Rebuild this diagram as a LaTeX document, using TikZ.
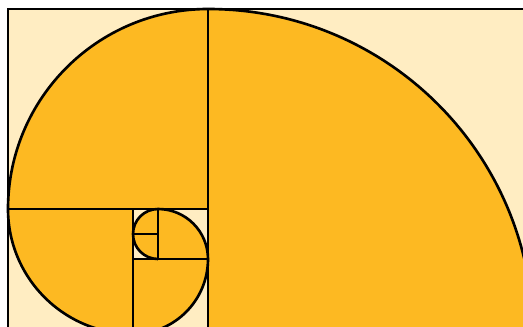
\documentclass[tikz,border=0pt]{standalone}
\usepackage{xcolor}
\definecolor{spiral-light}{HTML}{FFEDC2}
\definecolor{spiral-main}{HTML}{FDB922}
\usepackage{tikz}

\begin{document}
\begin{tikzpicture}[x=0.5cm,y=0.5cm,line width=1.5pt]

    % Frame (picture is cut on the right and bottom)
    \useasboundingbox (-0.32,0.32) rectangle (20.6,13.36);
    \clip (-0.32,0.32) rectangle (20.6,13.36);

    % Background
    \fill[spiral-light] (0,0) rectangle (21,13);

% Quarter discs, one per square
\foreach \cx/\cy/\a/\r in {8/0/0/13, 8/5/90/8, 5/5/180/5, 5/3/270/3, 6/3/0/2, 6/4/90/1, 6/4/180/1}
{
    \fill[spiral-main] (\cx,\cy) -- ++(\a:\r) arc[start angle=\a, delta angle=90, radius=\r] -- cycle;
    \draw (\cx,\cy) ++(\a:\r) arc[start angle=\a, delta angle=90, radius=\r];
}

% Squares
\draw (0,0) rectangle (21,13);
\draw (8,0) -- (8,13);
\draw (0,5) -- (8,5);
\draw (5,0) -- (5,5);
\draw (5,3) -- (8,3);
\draw (6,3) -- (6,5);
\draw (5,4) -- (6,4);

\end{tikzpicture}
\end{document}
